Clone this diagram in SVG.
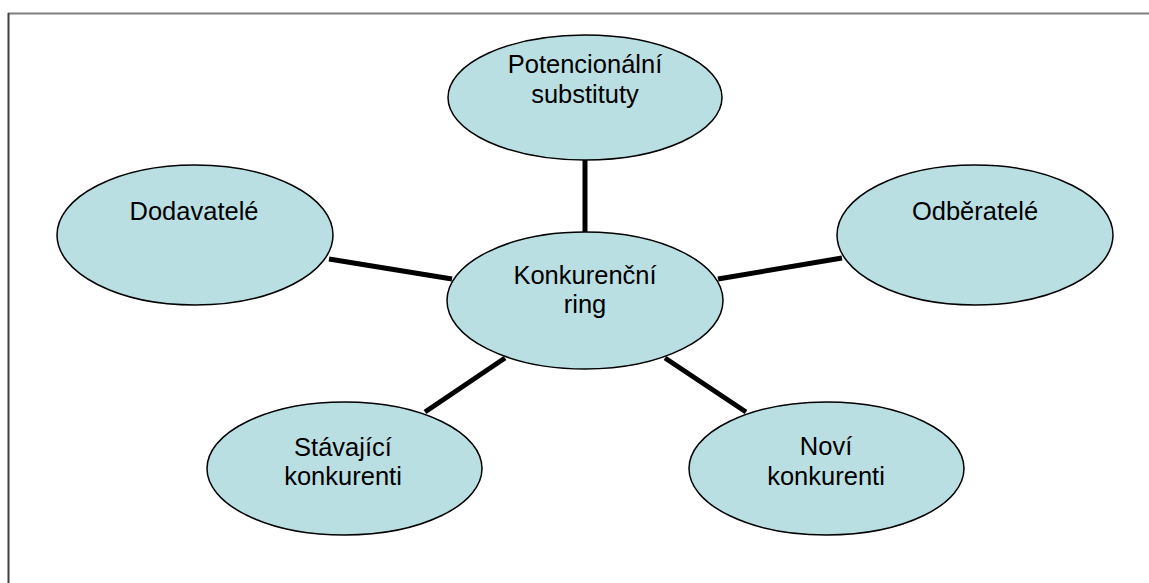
<svg xmlns="http://www.w3.org/2000/svg" width="1149" height="583" viewBox="0 0 1149 583">
<style>
.node ellipse{fill:#B9DFE3;stroke:#000;stroke-width:1.5}
.node text{font-family:"Liberation Sans",Arial,sans-serif;font-size:25.5px;fill:#000;text-anchor:middle}
.conn line{stroke:#000;stroke-width:5}
</style>
<rect width="1149" height="583" fill="#fff"/>
<g id="frame">
<line x1="8" y1="13.5" x2="1149" y2="13.5" stroke="#808080" stroke-width="2"/>
<line x1="8.5" y1="13" x2="8.5" y2="583" stroke="#404040" stroke-width="2"/>
</g>
<g id="connectors" class="conn">
<line x1="585" y1="159" x2="585" y2="233"/>
<line x1="329" y1="259" x2="452" y2="279"/>
<line x1="718" y1="279" x2="842" y2="258"/>
<line x1="425" y1="412" x2="505" y2="358"/>
<line x1="665" y1="358" x2="746" y2="412"/>
</g>
<g id="substituty" class="node">
<ellipse cx="585" cy="97.5" rx="137" ry="62.5"/>
<text x="585" y="73">Potencionální</text>
<text x="585" y="103">substituty</text>
</g>
<g id="dodavatele" class="node">
<ellipse cx="195" cy="235" rx="138" ry="70"/>
<text x="194" y="220">Dodavatelé</text>
</g>
<g id="odberatele" class="node">
<ellipse cx="975" cy="235" rx="138" ry="70"/>
<text x="975" y="220">Odběratelé</text>
</g>
<g id="ring" class="node">
<ellipse cx="585" cy="300.5" rx="138" ry="68.5"/>
<text x="585" y="284">Konkurenční</text>
<text x="585" y="313">ring</text>
</g>
<g id="stavajici" class="node">
<ellipse cx="344.5" cy="468.5" rx="137.5" ry="66.5"/>
<text x="343" y="456">Stávající</text>
<text x="343" y="485">konkurenti</text>
</g>
<g id="novi" class="node">
<ellipse cx="826.5" cy="468.5" rx="137.5" ry="66.5"/>
<text x="826" y="455">Noví</text>
<text x="826" y="485">konkurenti</text>
</g>
</svg>
